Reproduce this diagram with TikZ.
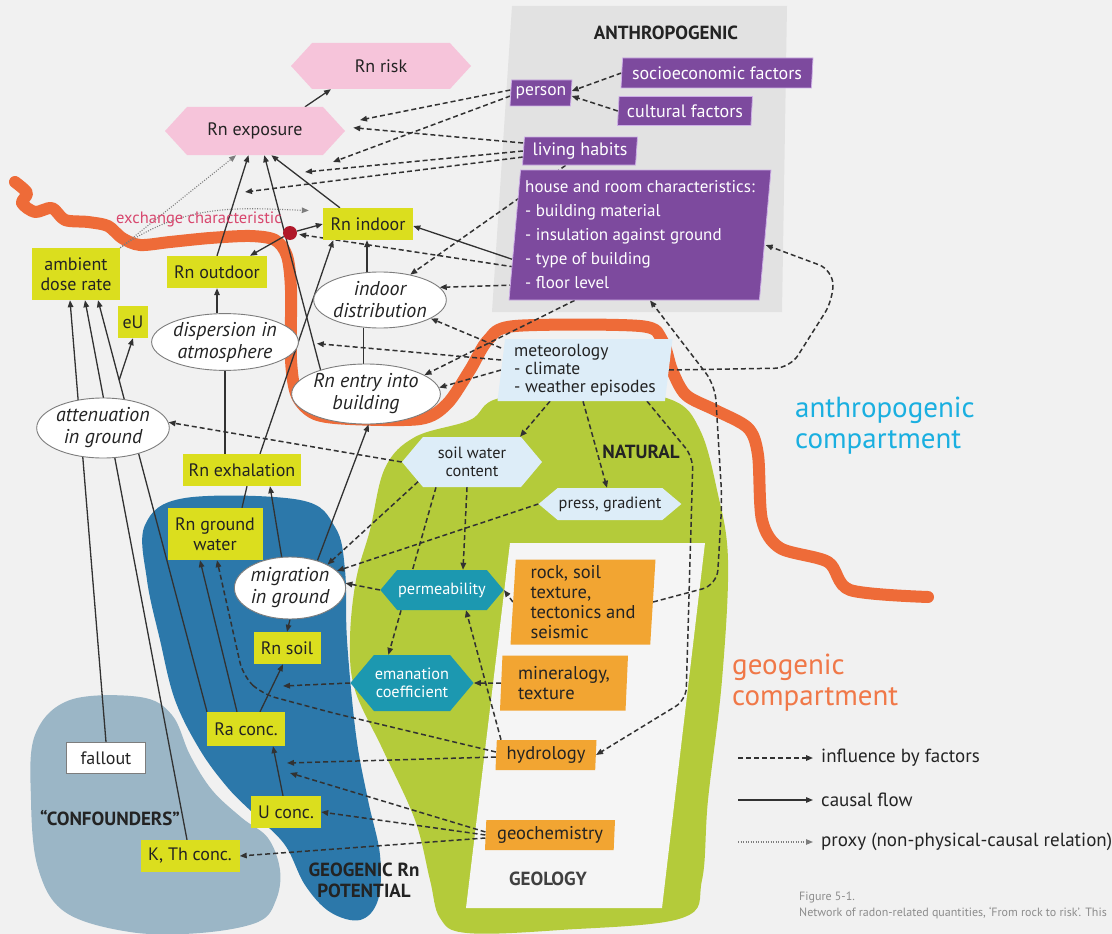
\documentclass[tikz,border=0pt]{standalone}
\usepackage{fontspec}
\setmainfont{PT Sans}
\usetikzlibrary{arrows.meta,shapes.geometric,shapes.symbols}

\definecolor{bgc}{RGB}{241,241,241}
\definecolor{panelc}{RGB}{226,226,226}
\definecolor{geolc}{RGB}{245,245,245}
\definecolor{txtc}{RGB}{35,35,35}
\definecolor{linec}{RGB}{50,50,50}
\definecolor{rnpink}{RGB}{246,196,218}
\definecolor{rnyellow}{RGB}{219,222,30}
\definecolor{rnpurple}{RGB}{125,74,158}
\definecolor{rnlav}{RGB}{205,175,230}
\definecolor{metblue}{RGB}{221,237,248}
\definecolor{rnteal}{RGB}{28,152,176}
\definecolor{rnorange}{RGB}{242,165,50}
\definecolor{natgreen}{RGB}{180,203,58}
\definecolor{geoblue}{RGB}{44,120,170}
\definecolor{confblue}{RGB}{155,182,198}
\definecolor{bordc}{RGB}{238,107,56}
\definecolor{anthc}{RGB}{26,175,224}
\definecolor{geoc}{RGB}{240,120,72}
\definecolor{exchc}{RGB}{216,71,110}
\definecolor{dotc}{RGB}{176,24,42}
\definecolor{ellc}{RGB}{125,125,125}
\definecolor{capc}{RGB}{140,140,140}

\pgfdeclarelayer{bg}
\pgfdeclarelayer{edges}
\pgfsetlayers{bg,edges,main}

\tikzset{
  lbl/.style={font=\fontsize{18}{20}\selectfont, text=txtc, align=center, inner sep=1pt},
  ybox/.style={lbl, fill=rnyellow, minimum height=32pt},
  wbox/.style={lbl, fill=white, draw=ellc, line width=0.8pt},
  ell/.style={lbl, ellipse, draw=ellc, line width=0.9pt, fill=white, inner sep=0pt,
    font=\fontsize{20}{22}\selectfont\itshape},
  pinkhex/.style={lbl, signal, signal to=east and west, signal pointer angle=95, fill=rnpink},
  lbhex/.style={lbl, signal, signal to=east and west, signal pointer angle=100, fill=metblue,
    font=\fontsize{16.3}{18.5}\selectfont},
  tealhex/.style={lbhex, fill=rnteal, text=white},
  pbox/.style={lbl, trapezium, trapezium left angle=84, trapezium right angle=96,
    trapezium stretches body, fill=rnpurple, draw=rnlav, line width=0.8pt, text=white},
  obox/.style={lbl, trapezium, trapezium left angle=86, trapezium right angle=94,
    trapezium stretches body, fill=rnorange, font=\fontsize{18.5}{20}\selectfont},
  metbox/.style={lbl, trapezium, trapezium left angle=82, trapezium right angle=98,
    trapezium stretches body, fill=metblue, font=\fontsize{17.5}{18}\selectfont},
  xdot/.style={circle, fill=dotc, minimum size=14pt, inner sep=0pt},
  head/.style={lbl, font=\fontsize{19}{21}\selectfont\bfseries},
  causal/.style={draw=linec, line width=1.3pt, -{Triangle[length=7pt,width=5.5pt]}},
  link/.style={draw=linec, line width=1.3pt},
  infl/.style={draw=linec, line width=1.5pt, dash pattern=on 5pt off 3pt,
    -{Triangle[length=7pt,width=5.5pt]}},
  proxy/.style={draw=ellc, line width=1.1pt, dash pattern=on 1pt off 1.5pt,
    -{Triangle[length=7pt,width=5.5pt]}},
}

\begin{document}
\begin{tikzpicture}[x=1pt, y=-1pt]
  \useasboundingbox (0,0) rectangle (1112,934);

  % background areas
  \begin{pgfonlayer}{bg}
    \fill[bgc] (0,0) rectangle (1112,934);
    \fill[panelc] (512,6) -- (787,6) -- (782,312) -- (492,312) -- cycle;
    \fill[natgreen] plot[smooth cycle, tension=0.6] coordinates {(350,640) (356,580) (370,530)
      (385,468) (415,437) (470,420) (500,398) (600,390) (672,400) (700,430) (717,490) (728,560)
      (722,680) (708,800) (702,880) (682,918) (560,930) (467,933) (440,918) (430,880) (415,820)
      (383,750) (355,690)};
    \fill[geolc] (510,543) -- (705,543) -- (662,908) -- (466,908) -- cycle;
    \fill[geoblue] plot[smooth cycle, tension=0.6] coordinates {(145,525) (185,498) (300,500)
      (335,527) (345,570) (347,640) (356,735) (368,800) (380,855) (378,900) (360,920) (330,912)
      (305,885) (285,845) (255,815) (228,788) (200,750) (175,700) (160,640) (147,580)};
    \fill[confblue] plot[smooth cycle, tension=0.6] coordinates {(35,735) (70,700) (140,697)
      (172,715) (190,755) (212,790) (242,818) (268,838) (280,870) (276,900) (258,922) (200,933)
      (130,932) (65,912) (38,868) (31,800)};
    \draw[bordc, line width=12pt, line cap=round, line join=round]
      plot[smooth, tension=0.5] coordinates {(15,182) (27,193) (22,203) (35,212) (52,208)
      (65,220) (88,222) (108,226) (122,238) (140,245) (170,242) (210,238) (250,236) (275,240)
      (287,256) (291,290) (291,360) (297,396) (315,414) (350,419) (420,419) (447,404) (470,370)
      (488,340) (515,326) (640,326) (662,340) (672,370) (686,395) (715,410) (748,428) (758,455)
      (762,520) (780,548) (828,562) (850,590) (928,597)};
  \end{pgfonlayer}

  % anthropogenic
  \node[head] (anthlbl) at (666,33) {ANTHROPOGENIC};
  \node[pbox, minimum width=62pt, minimum height=26pt, font=\fontsize{17.5}{20}\selectfont]
    (person) at (541,93) {person};
  \node[pbox, minimum width=192pt, minimum height=30pt] (socio) at (717,73) {socioeconomic factors};
  \node[pbox, minimum width=135pt, minimum height=29pt] (cult) at (685,111) {cultural factors};
  \node[pbox, minimum width=115pt, minimum height=28pt] (habits) at (580,151) {living habits};
  \node[pbox, minimum width=262pt, minimum height=130pt, align=left,
    font=\fontsize{17}{24}\selectfont] (house) at (640,235)
    {house and room characteristics:\\- building material\\- insulation against ground\\
     - type of building\\- floor level};

  % exposure and risk
  \node[pinkhex, minimum width=180pt, minimum height=46pt] (risk) at (381,66) {Rn risk};
  \node[pinkhex, minimum width=180pt, minimum height=48pt] (expo) at (255,131) {Rn exposure};

  % quantities
  \node[ybox, minimum width=90pt] (indoor) at (368,224) {Rn indoor};
  \node[ybox, minimum width=88pt, minimum height=52pt] (ambient) at (76,274) {ambient\\dose rate};
  \node[ybox, minimum width=100pt] (outdoor) at (217,272) {Rn outdoor};
  \node[ybox, minimum width=30pt] (eU) at (133,322) {eU};
  \node[ybox, minimum width=118pt] (exhal) at (242,470) {Rn exhalation};
  \node[ybox, minimum width=95pt, minimum height=52pt] (gwater) at (215,534) {Rn ground\\water};
  \node[ybox, minimum width=67pt] (soil) at (287,648) {Rn soil};
  \node[ybox, minimum width=78pt, minimum height=34pt] (ra) at (246,729) {Ra conc.};
  \node[ybox, minimum width=70pt] (uconc) at (286,812) {U conc.};
  \node[ybox, minimum width=99pt] (kth) at (190,856) {K, Th conc.};
  \node[wbox, minimum width=79pt, minimum height=31pt] (fallout) at (106,758) {fallout};
  \node[xdot] (xc) at (290,233) {};

  % processes
  \node[ell, minimum width=126pt, minimum height=56pt] (indist) at (380,300) {indoor\\distribution};
  \node[ell, minimum width=144pt, minimum height=56pt] (disp) at (225,342) {dispersion in\\atmosphere};
  \node[ell, minimum width=130pt, minimum height=60pt] (atten) at (103,428) {attenuation\\in ground};
  \node[ell, minimum width=144pt, minimum height=60pt] (entry) at (366,394) {Rn entry into\\building};
  \node[ell, minimum width=110pt, minimum height=62pt] (migr) at (290,588) {migration\\in ground};

  % natural
  \node[metbox, minimum width=175pt, minimum height=62pt, align=left] (met) at (585,370)
    {meteorology\\- climate\\- weather episodes};
  \node[head] (natlbl) at (641,452) {NATURAL};
  \node[lbhex, minimum width=140pt, minimum height=50pt] (swc) at (472,462) {soil water\\content};
  \node[lbhex, minimum width=140pt, minimum height=32pt, signal pointer angle=80] (press)
    at (610,504) {press, gradient};
  \node[tealhex, minimum width=118pt, minimum height=40pt] (perm) at (442,590) {permeability};
  \node[tealhex, minimum width=122pt, minimum height=56pt] (eman) at (412,683) {emanation\\coefficient};

  % geology
  \node[obox, minimum width=145pt, minimum height=85pt, align=left] (rock) at (583,602)
    {rock, soil\\texture,\\tectonics and\\seismic};
  \node[obox, minimum width=128pt, minimum height=55pt, align=left] (miner) at (564,683)
    {mineralogy,\\texture};
  \node[obox, minimum width=101pt, minimum height=30pt] (hydro) at (546,755) {hydrology};
  \node[obox, minimum width=130pt, minimum height=30pt] (geochem) at (550,835) {geochemistry};
  \node[head, text=black!75] (geollbl) at (548,879) {GEOLOGY};
  \node[head] (potlbl) at (364,880) {GEOGENIC Rn\\POTENTIAL};
  \node[head] (conflbl) at (110,818) {``CONFOUNDERS''};

  % compartments
  \node[lbl, text=exchc, font=\fontsize{16.5}{18}\selectfont] (exchlbl) at (199,219)
    {exchange characteristic};
  \node[lbl, anchor=west, align=left, text=anthc, font=\fontsize{29}{31}\selectfont] (anthcomp)
    at (794,426) {anthropogenic\\compartment};
  \node[lbl, anchor=west, align=left, text=geoc, font=\fontsize{29}{31}\selectfont] (geocomp)
    at (731,683) {geogenic\\compartment};

  % free ends and bends
  \coordinate (c1) at (333,162);
  \coordinate (c2) at (305,172);
  \coordinate (c3) at (245,192);
  \coordinate (c4) at (283,686);
  \coordinate (c5) at (287,763);
  \coordinate (c6) at (290,773);
  \coordinate (w1) at (693,457);
  \coordinate (w2) at (686,700);
  \coordinate (w3) at (790,368);
  \coordinate (w4) at (833,300);
  \coordinate (w5) at (833,270);
  \coordinate (w6) at (717,585);
  \coordinate (w7) at (722,500);
  \coordinate (w8) at (715,385);
  \coordinate (w9) at (333,713);
  \coordinate (w10) at (262,694);
  \coordinate (w11) at (243,676);

  \begin{pgfonlayer}{edges}
    % causal flow
    \draw[causal] ([xshift=50pt]expo.north) -- ([xshift=-50pt]risk.south);
    \draw[causal] (outdoor.north) -- (expo.255);
    \draw[causal] (indoor.150) -- (expo.304);
    \draw[causal] (entry.152) -- (expo.291);
    \draw[causal] (exhal.42) -- (indoor.205);
    \draw[link] (entry.95) -- (entry.95 |- indist.south);
    \draw[causal] ([xshift=-1pt]indoor.south |- indist.north) -- ([xshift=-1pt]indoor.south);
    \draw[link] (disp.south |- exhal.north) -- (disp.south);
    \draw[causal] (outdoor.south |- disp.north) -- (outdoor.south);
    \draw[link] ([xshift=27pt]gwater.north) -- ([xshift=5pt]exhal.south);
    \draw[causal] (migr.105) -- ([xshift=28pt]exhal.south);
    \draw[causal] (migr.45) -- (entry.275);
    \draw[causal] (migr.south) -- (soil.north);
    \draw[causal] ([xshift=14pt]ra.north) -- ([xshift=-4pt]soil.south);
    \draw[causal] ([xshift=-3pt]uconc.north) -- ([xshift=27pt]ra.south);
    \draw[causal] ([xshift=-9pt]ra.north) -- ([xshift=-15pt]gwater.south);
    \draw[causal] (fallout.north) -- ([xshift=-6pt]ambient.south);
    \draw[causal] ([xshift=-3pt]kth.north) -- ([xshift=9pt]ambient.south);
    \draw[causal] ([xshift=-39pt]ra.north) -- coordinate[pos=0.806] (eUbr) ([xshift=22pt]ambient.south);
    \draw[causal] (eUbr) -- (eU.south);
    \draw[causal] (xc) -- (indoor.west);
    \draw[causal] (xc) -- ([xshift=33pt]outdoor.north);
    \draw[causal] ([yshift=-25pt]house.west) -- ([yshift=-2pt]indoor.east);

    % proxies
    \draw[proxy] (ambient.north east) -- (expo.232);
    \draw[proxy, shorten >=14pt] (ambient.north east) to[out=35,in=178] ([yshift=13pt]indoor.west);

    % influence by factors
    \draw[infl] (socio.west) -- ([yshift=2pt]person.east);
    \draw[infl] (cult.west) -- ([yshift=-3pt]person.east);
    \draw[infl, shorten >=15pt] ([yshift=3pt]person.west) -- ([yshift=8pt]expo.east);
    \draw[infl] ([yshift=-3pt]person.west) -- (c1);
    \draw[infl, shorten >=8pt] ([yshift=8pt]habits.west) -- ([yshift=4pt]expo.east);
    \draw[infl] (habits.west) -- (c2);
    \draw[infl] ([yshift=-6pt]habits.west) -- (c3);
    \draw[infl] (habits.south west) -- (indist.40);
    \draw[infl, shorten >=2pt] ([yshift=-32pt]house.west) -- (xc);
    \draw[infl] ([yshift=-50pt]house.west) -- (indist.12);
    \draw[infl] (house.south west) -- (entry.18);
    \draw[infl] ([yshift=22pt]met.west) -- (indist.340);
    \draw[infl, shorten >=18pt] ([yshift=10pt]met.west) -- (disp.east);
    \draw[infl] (met.west) -- (entry.5);
    \draw[infl] ([xshift=-35pt]met.south) -- ([xshift=48pt]swc.north);
    \draw[infl] ([xshift=-2pt]met.south) -- ([xshift=-3pt]press.north);
    \draw[infl, rounded corners=12pt] ([xshift=62pt]met.south) -- (w1) -- (w2) -- (hydro.east);
    \draw[infl, rounded corners=15pt] (met.east) -- (w3) -- (w4) -- (w5) -- ([yshift=-10pt]house.east);
    \draw[infl, rounded corners=15pt] (rock.east) -- (w6) -- (w7) -- (w8) -- ([xshift=10pt]house.south);
    \draw[infl] (swc.west) -- (atten.5);
    \draw[infl] (swc.200) -- (migr.32);
    \draw[infl] (swc.215) -- (eman.130);
    \draw[infl] ([xshift=-5pt]swc.south) -- ([xshift=21pt]perm.north);
    \draw[infl] (press.west) -- (migr.20);
    \draw[infl] (perm.west) -- (migr.5);
    \draw[infl] (rock.west) -- (perm.east);
    \draw[infl] (miner.west) -- (eman.east);
    \draw[infl] ([xshift=-45pt]hydro.north) -- ([xshift=24pt]perm.south);
    \draw[infl] (eman.west) -- (c4);
    \draw[infl, rounded corners=14pt] ([yshift=3pt]hydro.west) -- (w9) -- (w10) -- (w11)
      -- ([xshift=2pt]gwater.south);
    \draw[infl] ([yshift=-2pt]hydro.west) -- (c5);
    \draw[infl] ([yshift=3pt]geochem.west) -- (c6);
    \draw[infl] (geochem.west) -- (uconc.east);
    \draw[infl] ([yshift=-3pt]geochem.west) -- (kth.east);
  \end{pgfonlayer}

  % legend
  \coordinate (la1) at (738,758); \coordinate (lb1) at (813,758);
  \coordinate (la2) at (738,800); \coordinate (lb2) at (813,800);
  \coordinate (la3) at (738,842); \coordinate (lb3) at (813,842);
  \draw[infl] (la1) -- (lb1);
  \draw[causal] (la2) -- (lb2);
  \draw[proxy] (la3) -- (lb3);
  \node[lbl, anchor=west, font=\fontsize{19}{21}\selectfont] (lgi) at (820,758) {influence by factors};
  \node[lbl, anchor=west, font=\fontsize{19}{21}\selectfont] (lgc) at (820,800) {causal flow};
  \node[lbl, anchor=west, font=\fontsize{19}{21}\selectfont] (lgp) at (820,842)
    {proxy (non-physical-causal relation)};

  % caption
  \node[lbl, anchor=west, text=capc, font=\fontsize{12}{14}\selectfont] (figno) at (798,897) {Figure 5-1.};
  \node[lbl, anchor=west, text=capc, font=\fontsize{12}{14}\selectfont] (figtxt) at (798,913)
    {Network of radon-related quantities, ‘From rock to risk’. This};
\end{tikzpicture}
\end{document}
